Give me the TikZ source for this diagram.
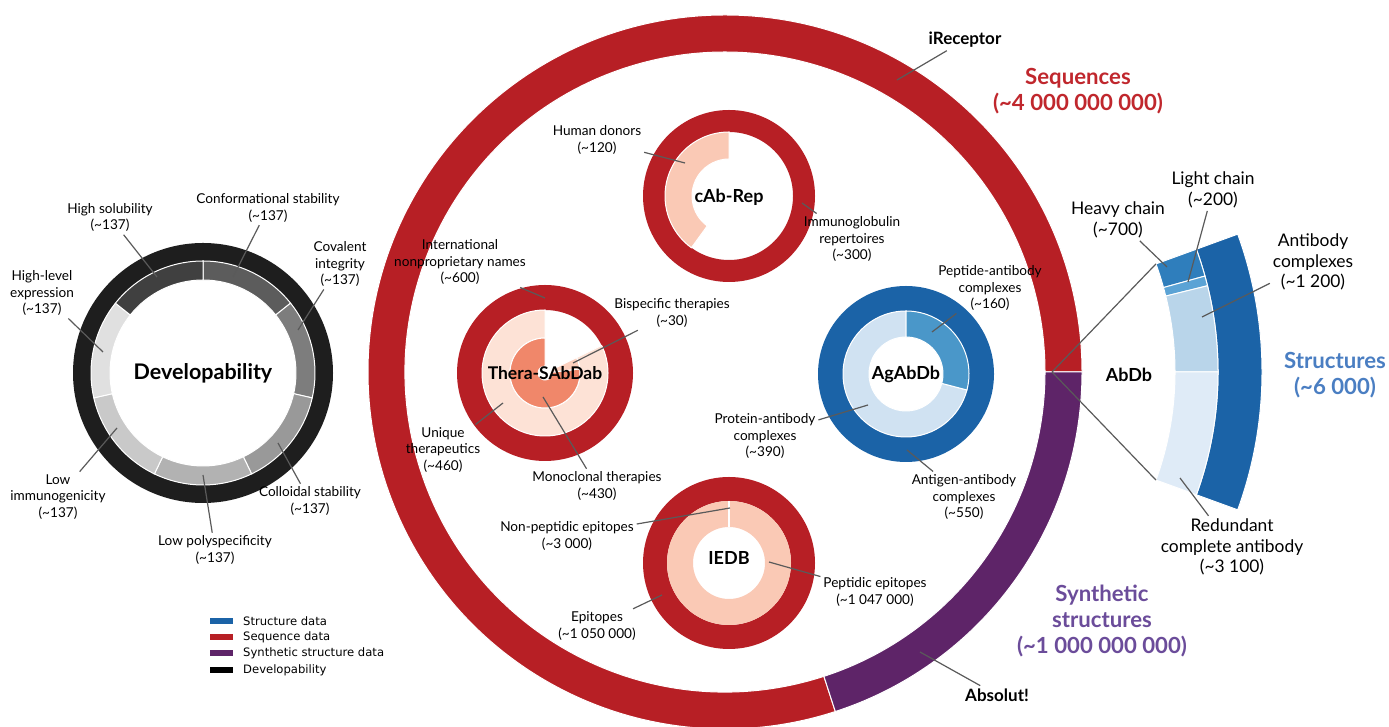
\documentclass[tikz,border=0pt]{standalone}
\usepackage{fontspec}
\setmainfont{Lato}
\newfontfamily\legfont{DejaVu Sans}
\usetikzlibrary{calc}
\definecolor{seqred}{HTML}{B71F25}
\definecolor{synpurp}{HTML}{5E2468}
\definecolor{strblue}{HTML}{1B63A7}
\definecolor{devblack}{HTML}{1E1E1E}
\definecolor{leadgray}{HTML}{5A5A5A}
\definecolor{pinkA}{HTML}{FAC9B5}
\definecolor{pinkL}{HTML}{FDE2D6}
\definecolor{salmon}{HTML}{F0876A}
\definecolor{bispink}{HTML}{FCD0BE}
\definecolor{blueL}{HTML}{D0E2F2}
\definecolor{blueM}{HTML}{4A97C9}
\definecolor{hcblue}{HTML}{2F7EBC}
\definecolor{lcblue}{HTML}{5BA3D5}
\definecolor{acblue}{HTML}{B9D5EA}
\definecolor{rcblue}{HTML}{DFEBF7}
\definecolor{seqtxt}{HTML}{C0272D}
\definecolor{strtxt}{HTML}{4A7EC2}
\definecolor{syntxt}{HTML}{6B4C9A}
\newcommand{\mytilde}{\textasciitilde}
% annular sector: center, r_in, r_out, a1, a2, fill
\newcommand{\annsec}[6]{%
  \fill[#6,draw=white,line width=1pt] ([shift={(#4:#3)}]#1) arc[start angle=#4,end angle=#5,radius=#3]
    -- ([shift={(#5:#2)}]#1) arc[start angle=#5,end angle=#4,radius=#2] -- cycle;}
\def\H{727}
\begin{document}
\begin{tikzpicture}[x=1pt,y=1pt,
  lbl/.style={align=center,inner sep=0pt,outer sep=3pt,font=\fontsize{13.6}{16.5}\selectfont},
  lblB/.style={align=center,inner sep=0pt,outer sep=3pt,font=\fontsize{17.4}{20.5}\selectfont},
  title/.style={align=center,inner sep=0pt,font=\bfseries\fontsize{22.2}{26}\selectfont},
  dbname/.style={inner sep=0pt,outer sep=3pt,font=\bfseries\fontsize{18}{20}\selectfont},
  lead/.style={draw=leadgray,line width=1.2pt},
  legpatch/.style={minimum width=23pt,minimum height=5.5pt,inner sep=0pt},
  legtxt/.style={inner sep=0pt,anchor=west,font=\legfont\fontsize{11.6}{13}\selectfont}]
\useasboundingbox (0,0) rectangle (1389,727);

% ---------- centres ----------
\coordinate (BC) at (725,\H-372);
\coordinate (DC) at (203,\H-373);
\coordinate (CC) at (729,\H-196);
\coordinate (TC) at (545,\H-373);
\coordinate (GC) at (906,\H-374);
\coordinate (IC) at (729,\H-563);
\coordinate (AC) at (859,\H-372);

% ---------- big ring ----------
\annsec{BC}{320}{357}{0}{288}{seqred}
\annsec{BC}{320}{357}{-72}{0}{synpurp}

% ---------- developability ----------
\fill[devblack,even odd rule] (DC) circle[radius=130] (DC) circle[radius=112];
\annsec{DC}{93}{112}{38.571}{90}{black!64}
\annsec{DC}{93}{112}{-12.857}{38.571}{black!51}
\annsec{DC}{93}{112}{-64.286}{-12.857}{black!40}
\annsec{DC}{93}{112}{-115.714}{-64.286}{black!30}
\annsec{DC}{93}{112}{-167.143}{-115.714}{black!21}
\annsec{DC}{93}{112}{-218.571}{-167.143}{black!12}
\annsec{DC}{93}{112}{-270}{-218.571}{black!75}
\node[inner sep=0pt,font=\bfseries\fontsize{21.5}{24}\selectfont] (dev) at (DC) {Developability};

% ---------- cAb-Rep ----------
\fill[seqred,even odd rule] (CC) circle[radius=86] (CC) circle[radius=64];
\annsec{CC}{37}{64}{90}{234}{pinkA}
\node[dbname] (cab) at ([yshift=-1]CC) {cAb-Rep};

% ---------- Thera-SAbDab ----------
\fill[seqred,even odd rule] (TC) circle[radius=88] (TC) circle[radius=63];
\annsec{TC}{35}{63}{90}{386}{pinkL}
\annsec{TC}{7}{35}{90}{366.7}{salmon}
\annsec{TC}{7}{35}{366.7}{386}{bispink}
\node[dbname,font=\bfseries\fontsize{17.5}{20}\selectfont] (thera) at (TC) {Thera-SAbDab};

% ---------- AgAbDb ----------
\fill[strblue,even odd rule] (GC) circle[radius=88] (GC) circle[radius=63];
\annsec{GC}{37}{63}{90}{345.3}{blueL}
\annsec{GC}{37}{63}{345.3}{450}{blueM}
\node[dbname] (agab) at (GC) {AgAbDb};

% ---------- IEDB ----------
\fill[seqred,even odd rule] (IC) circle[radius=86] (IC) circle[radius=62];
\fill[pinkA,even odd rule] (IC) circle[radius=62] (IC) circle[radius=36];
\draw[white,line width=1.5pt] ([shift={(90:36)}]IC) -- ([shift={(90:62)}]IC);
\node[dbname] (iedb) at ([yshift=5]IC) {IEDB};

% ---------- AbDb fan ----------
\annsec{AC}{359}{403}{-20}{20}{strblue}
\annsec{AC}{316}{359}{15.5}{20}{hcblue}
\annsec{AC}{316}{359}{13.9}{15.5}{lcblue}
\annsec{AC}{316}{359}{0}{13.9}{acblue}
\annsec{AC}{316}{359}{-20}{0}{rcblue}
\coordinate (J) at (1052,\H-372);
\coordinate (fanT) at ([shift={(20:316)}]AC);
\coordinate (fanB) at ([shift={(-20:316)}]AC);
\draw[lead] (J) -- (fanT);
\draw[lead] (J) -- (fanB);
\node[dbname] (abdb) at (1129,\H-375) {AbDb};

% ---------- big titles ----------
\node[title,text=seqtxt] (seq) at (1078,\H-91) {Sequences\\(\mytilde4 000 000 000)};
\node[title,text=strtxt] (str) at (1335,\H-375) {Structures\\(\mytilde6 000)};
\node[title,text=syntxt] (syn) at (1102,\H-621) {Synthetic\\structures\\(\mytilde1 000 000 000)};

% ---------- labels and leaders ----------
\node[dbname,font=\bfseries\fontsize{17}{20}\selectfont] (irec) at (965,\H-40) {iReceptor};
\coordinate (irecE) at (897,\H-80);
\draw[lead] (irec) -- (irecE);
\node[dbname,font=\bfseries\fontsize{17}{20}\selectfont] (abs) at (997,\H-695) {Absolut!};
\coordinate (absE) at (920,\H-652);
\draw[lead] (abs) -- (absE);

% developability labels
\node[lbl] (hs) at (110,\H-217.5) {High solubility\\(\mytilde137)};
\coordinate (hsE) at (157,\H-277); \draw[lead] (hs) -- (hsE);
\node[lbl] (cs) at (268,\H-208) {Conformational stability\\(\mytilde137)};
\coordinate (csE) at (233,\H-277); \draw[lead] (cs) -- (csE);
\node[lbl] (ci) at (340,\H-264) {Covalent\\integrity\\(\mytilde137)};
\coordinate (ciE) at (298,\H-330); \draw[lead] (ci) -- (ciE);
\node[lbl] (he) at (42,\H-293) {High-level\\expression\\(\mytilde137)};
\coordinate (heE) at (103,\H-352); \draw[lead] (he) -- (heE);
\node[lbl] (li) at (58,\H-497) {Low\\immunogenicity\\(\mytilde137)};
\coordinate (liE) at (117,\H-428); \draw[lead] (li) -- (liE);
\node[lbl] (lp) at (215,\H-550) {Low polyspecificity\\(\mytilde137)};
\coordinate (lpE) at (203,\H-475); \draw[lead] (lp) -- (lpE);
\node[lbl] (col) at (310,\H-501) {Colloidal stability\\(\mytilde137)};
\coordinate (colE) at (278,\H-443); \draw[lead] (col) -- (colE);

% cAb-Rep labels
\node[lbl] (hd) at (597,\H-140) {Human donors\\(\mytilde120)};
\coordinate (hdE) at (685,\H-163); \draw[lead] (hd) -- (hdE);
\node[lbl] (ir) at (852,\H-239) {Immunoglobulin\\repertoires\\(\mytilde300)};
\coordinate (irE) at (802,\H-203); \draw[lead] (ir) -- (irE);

% Thera-SAbDab labels
\node[lbl] (inn) at (460,\H-262) {International\\nonproprietary names\\(\mytilde600)};
\coordinate (innE) at (545,\H-298); \draw[lead] (inn) -- (innE);
\node[lbl] (bis) at (672,\H-313) {Bispecific therapies\\(\mytilde30)};
\coordinate (bisE) at (573,\H-363); \draw[lead] (bis) -- (bisE);
\node[lbl] (ut) at (443,\H-450) {Unique\\therapeutics\\(\mytilde460)};
\coordinate (utE) at (503,\H-403); \draw[lead] (ut) -- (utE);
\node[lbl] (mono) at (597,\H-486) {Monoclonal therapies\\(\mytilde430)};
\coordinate (monoE) at (543,\H-397); \draw[lead] (mono) -- (monoE);

% AgAbDb labels
\node[lbl] (pep) at (990,\H-288) {Peptide-antibody\\complexes\\(\mytilde160)};
\coordinate (pepE) at (932,\H-332); \draw[lead] (pep) -- (pepE);
\node[lbl] (prot) at (765,\H-436) {Protein-antibody\\complexes\\(\mytilde390)};
\coordinate (protE) at (868,\H-405); \draw[lead] (prot) -- (protE);
\node[lbl] (ant) at (964,\H-497) {Antigen-antibody\\complexes\\(\mytilde550)};
\coordinate (antE) at (907,\H-450); \draw[lead] (ant) -- (antE);

% IEDB labels
\node[lbl] (np) at (567,\H-536) {Non-peptidic epitopes\\(\mytilde3 000)};
\coordinate (npE) at (730,\H-508); \draw[lead] (np) -- (npE);
\node[lbl] (pe) at (875,\H-592) {Peptidic epitopes\\(\mytilde1 047 000)};
\coordinate (peE) at (769,\H-562); \draw[lead] (pe) -- (peE);
\node[lbl] (ep) at (597,\H-626) {Epitopes\\(\mytilde1 050 000)};
\coordinate (epE) at (662,\H-595); \draw[lead] (ep) -- (epE);

% AbDb labels
\node[lblB] (hc) at (1118,\H-220) {Heavy chain\\(\mytilde700)};
\coordinate (hcE) at (1167,\H-267); \draw[lead] (hc) -- (hcE);
\node[lblB] (lc) at (1213,\H-190) {Light chain\\(\mytilde200)};
\coordinate (lcE) at (1188,\H-282); \draw[lead] (lc) -- (lcE);
\node[lblB] (ac) at (1313,\H-262) {Antibody\\complexes\\(\mytilde1 200)};
\coordinate (acE) at (1202,\H-317); \draw[lead] (ac) -- (acE);
\node[lblB] (rc) at (1232,\H-547) {Redundant\\complete antibody\\(\mytilde3 100)};
\coordinate (rcE) at (1180,\H-478); \draw[lead] (rc) -- (rcE);

% ---------- legend ----------
\node[legpatch,fill=strblue] (lg1) at (221.5,\H-621) {};
\node[legtxt] (lt1) at (243,\H-621) {Structure data};
\node[legpatch,fill=seqred] (lg2) at (221.5,\H-637) {};
\node[legtxt] (lt2) at (243,\H-637) {Sequence data};
\node[legpatch,fill=synpurp] (lg3) at (221.5,\H-653) {};
\node[legtxt] (lt3) at (243,\H-653) {Synthetic structure data};
\node[legpatch,fill=black] (lg4) at (221.5,\H-670) {};
\node[legtxt] (lt4) at (243,\H-670) {Developability};
\end{tikzpicture}
\end{document}
